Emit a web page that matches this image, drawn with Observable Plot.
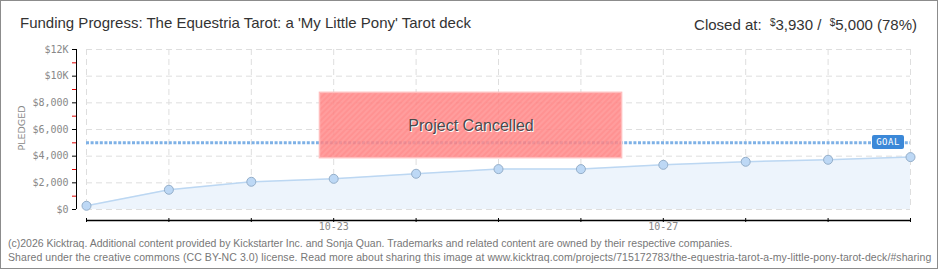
<!DOCTYPE html>
<html><head><meta charset="utf-8">
<script src="https://cdn.jsdelivr.net/npm/d3@7"></script>
<script src="https://cdn.jsdelivr.net/npm/@observablehq/plot@0.6"></script>
<style>
body{margin:0;background:#fff;}
#wrap{position:relative;width:940px;height:270px;overflow:hidden;font-family:"Liberation Sans",sans-serif;}
#frame{position:absolute;left:0;top:0;width:936px;height:267px;border:1px solid #8c8c8c;pointer-events:none;}
#title{position:absolute;left:20px;top:14px;font-size:15px;line-height:18px;color:#333;white-space:nowrap;}
#closed{position:absolute;right:23px;top:14px;font-size:15px;line-height:18px;color:#333;white-space:nowrap;}
#closed .cur{font-size:10px;vertical-align:4px;}
#chart{position:absolute;left:0;top:38px;}
#goal{position:absolute;background:#3b88d8;color:#fff;font-family:"DejaVu Sans Mono",monospace;font-size:9px;line-height:14px;height:14px;width:32px;text-align:center;border-radius:2px;letter-spacing:0.5px;}
.foot{position:absolute;left:8px;font-size:10.5px;line-height:12px;color:#777;white-space:nowrap;}
</style></head>
<body>
<div id="wrap">
  <div id="title">Funding Progress: The Equestria Tarot: a 'My Little Pony' Tarot deck</div>
  <div id="closed">Closed at: &nbsp;<span class="cur">$</span>3,930 / &nbsp;<span class="cur">$</span>5,000 (78%)</div>
  <div id="chart"></div>
  <div class="foot" style="top:237px">(c)2026 Kicktraq. Additional content provided by Kickstarter Inc. and Sonja Quan. Trademarks and related content are owned by their respective companies.</div>
  <div class="foot" style="top:251px;letter-spacing:0.08px">Shared under the creative commons (CC BY-NC 3.0) license. Read more about sharing this image at www.kicktraq.com/projects/715172783/the-equestria-tarot-a-my-little-pony-tarot-deck/#sharing</div>
  <div id="frame"></div>
</div>
<script>
const days = ["10-20","10-21","10-22","10-23","10-24","10-25","10-26","10-27","10-28","10-29","10-30"];
const pledged = [280, 1480, 2080, 2300, 2680, 3030, 3030, 3350, 3580, 3730, 3930];
const goal = 5000;
const yTicks = [0, 2000, 4000, 6000, 8000, 10000, 12000];
const yTickLabels = ["$0", "$2,000", "$4,000", "$6,000", "$8,000", "$10K", "$12K"];
const yMinorTicks = [1000, 3000, 5000, 7000, 9000, 11000];
const xLabelDays = ["10-23", "10-27"];
const cancelledFrom = "10-22T20:00";
const cancelledTo = "10-26T12:00";
const cancelledLow = 3850, cancelledHigh = 8750;
const cancelledText = "Project Cancelled";
const cancelledTextAt = ["10-24T16:00", 6300];

const parse = s => { const [md, t] = s.split("T"); const [m, d] = md.split("-").map(Number); const h = t ? +t.split(":")[0] : 0; return new Date(Date.UTC(2014, m - 1, d, h)); };
const dates = days.map(parse);
const data = dates.map((date, i) => ({date, v: pledged[i]}));
const d0 = dates[0], dN = dates[dates.length - 1];

const plot = Plot.plot({
  width: 940, height: 200,
  marginLeft: 86, marginRight: 30, marginTop: 11, marginBottom: 29,
  x: {type: "utc", domain: [d0, dN], label: null},
  y: {domain: [0, 12000], label: null},
  style: {background: "transparent"},
  marks: [
    Plot.gridY(yTicks, {stroke: "#dedede", strokeOpacity: 1, strokeDasharray: "6,4"}),
    Plot.gridX(dates, {stroke: "#dedede", strokeOpacity: 1, strokeDasharray: "6,4"}),
    Plot.areaY(data, {x: "date", y: "v", fill: "#edf4fc"}),
    Plot.lineY(data, {x: "date", y: "v", stroke: "#bcd7f2", strokeWidth: 1.5}),
    Plot.ruleY([goal], {stroke: "#7eb1e6", strokeWidth: 3, strokeDasharray: "3,1.6"}),
    Plot.rect([0], {x1: parse(cancelledFrom), x2: parse(cancelledTo), y1: cancelledLow, y2: cancelledHigh, fill: "url(#hatch)", fillOpacity: 0.85, stroke: "#ffbdbd", strokeWidth: 1.5}),
    Plot.dot(data, {x: "date", y: "v", r: 4.5, fill: "#bdd8f5", stroke: "#94aec9", strokeWidth: 1}),
    Plot.text([cancelledText], {x: parse(cancelledTextAt[0]), y: cancelledTextAt[1], fill: "#fff", dx: 1, dy: 1, fontSize: 16, fontFamily: "Liberation Sans"}),
    Plot.text([cancelledText], {x: parse(cancelledTextAt[0]), y: cancelledTextAt[1], fill: "#4a4a4a", fontSize: 16, fontFamily: "Liberation Sans"}),
    Plot.ruleX([d0], {y1: 0, y2: 12000, dx: -10, stroke: "#000"}),
    Plot.axisY(yMinorTicks, {tickSize: 4, dx: -10, stroke: "#e00000", tickFormat: () => "", label: null}),
    Plot.axisY(yTicks, {tickSize: 4, tickPadding: 4, dx: -10, stroke: "#000", fill: "#888", fontSize: 10, fontFamily: "DejaVu Sans Mono", tickFormat: d => yTickLabels[yTicks.indexOf(d)], label: null}),
    Plot.text(["PLEDGED"], {frameAnchor: "left", rotate: -90, dx: -65, dy: 21, fill: "#888", fontSize: 9.5, fontFamily: "DejaVu Sans", letterSpacing: 2.2}),
    Plot.ruleY([0], {x1: d0, x2: dN, dy: 11, stroke: "#000", strokeWidth: 1.5}),
    Plot.axisX(dates, {tickSize: 4, dy: 9, stroke: "#000", tickFormat: () => "", label: null}),
    Plot.text(xLabelDays, {x: d => parse(d), text: d => d, frameAnchor: "bottom", dy: 20, fill: "#888", fontSize: 10, fontFamily: "DejaVu Sans Mono"})
  ]
});

const defs = document.createElementNS("http://www.w3.org/2000/svg", "defs");
defs.innerHTML = '<pattern id="hatch" width="4" height="4" patternUnits="userSpaceOnUse" patternTransform="rotate(45)"><rect width="4" height="4" fill="#ff8c8c"/><rect width="2" height="4" fill="#ff7f7f"/></pattern>';
plot.insertBefore(defs, plot.firstChild);
document.getElementById("chart").appendChild(plot);

const xs = plot.scale("x"), ys = plot.scale("y");
const g = document.createElement("div");
g.id = "goal"; g.textContent = "GOAL";
g.style.left = (xs.apply(dN) - 38) + "px";
g.style.top = (38 + ys.apply(goal) - 7) + "px";
document.getElementById("wrap").appendChild(g);
</script>
</body></html>
